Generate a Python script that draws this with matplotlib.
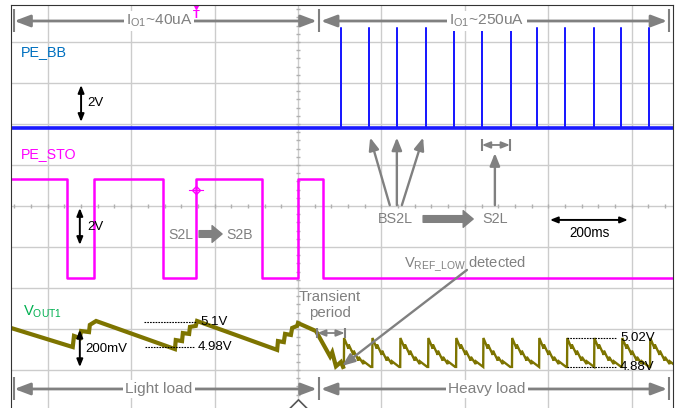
import matplotlib
matplotlib.use("Agg")
import matplotlib.pyplot as plt
import numpy as np

FONT, K = 'Liberation Sans', 1.06
plt.rcParams['font.family'] = FONT
plt.rcParams['mathtext.fontset'] = 'custom'
plt.rcParams['mathtext.rm'] = FONT

# time axis in ms, 200 ms/div, trigger at 0
# PE_BB (2V/div): spike times
bb_spike_t = [102, 170, 238, 306, 374, 442, 510, 573, 641, 709, 775, 842]
bb_spike_v = 4.9
bb_offset = 1.9          # div

# PE_STO (2V/div): edge times and levels
sto_edge_t = [-554, -489, -324, -245, -86, 0, 60]
sto_high = 4.8
sto_offset = -1.75       # div

# VOUT1 (200mV/div)
vout_light_t = [-688, -540, -537, -523, -520, -501, -499, -484,
                -295, -293, -278, -276, -261, -259, -245, -242,
                -50, -48, -34, -31, -17, -14, -2, 0,
                43, 77, 82, 91, 103, 108]
vout_light_v = [5.071, 4.978, 5.032, 5.022, 5.056, 5.051, 5.086, 5.105,
                4.968, 5.012, 5.007, 5.046, 5.042, 5.076, 5.081, 5.105,
                4.964, 5.007, 5.002, 5.042, 5.037, 5.071, 5.081, 5.095,
                5.056, 4.932, 4.952, 4.884, 4.905, 4.881]
heavy_jump_t = [110, 178, 245, 312, 379, 444, 513, 578, 645, 710, 777, 844]
cycle_dt = [0, 0.5, 11, 11.5, 23, 23.5, 35, 35.5, 47, 47.5, 64.7]
cycle_v = [4.881, 5.022, 4.970, 4.990, 4.940, 4.960, 4.912, 4.930, 4.895, 4.908, 4.881]
vout_ref = 5.1
vout_ref_div = -2.83

GRAY = '#808080'
BLUE = '#1a1aff'
MAG = '#ff00ff'
OLIVE = '#7d7400'


def vout_div(v):
    return vout_ref_div + (np.asarray(v) - vout_ref) / 0.2


fig = plt.figure(figsize=(6.78, 4.08), dpi=100)
ax = fig.add_axes([11 / 678, 0, 662 / 678, 403 / 408])
ax.set_xlim(-688, 899)
ax.set_ylim(-4.927, 4.902)
ax.set_xticks(np.arange(-600, 900, 200))
ax.set_yticks(np.arange(-4, 5, 1))
ax.tick_params(length=0, labelbottom=False, labelleft=False)
ax.grid(True, color='#cccccc', lw=1)
for s in ['left', 'top', 'right']:
    ax.spines[s].set_color('#333333')
ax.spines['bottom'].set_visible(False)

# centre graticule minor ticks
ax.plot(np.arange(-680, 900, 40), np.zeros(40), ls='', marker='|', ms=3.5, color='#b0b0b0')
ax.plot(np.zeros(49), np.arange(-4.8, 5, 0.2), ls='', marker='_', ms=3.5, color='#b0b0b0')

# PE_BB trace
bb_t = [-688]
bb_v = [0]
for t in bb_spike_t:
    bb_t += [t, t, t]
    bb_v += [0, bb_spike_v, 0]
bb_t.append(899)
bb_v.append(0)
ax.plot(bb_t, np.array(bb_v) / 2 + bb_offset, color=BLUE, lw=1.1)
ax.plot([-688, 899], [bb_offset, bb_offset], color=BLUE, lw=2.6)

# PE_STO trace
sto_t = [-688]
sto_v = [sto_high]
level = sto_high
for t in sto_edge_t:
    sto_t += [t, t]
    sto_v += [level, sto_high - level]
    level = sto_high - level
sto_t.append(899)
sto_v.append(level)
ax.plot(sto_t, np.array(sto_v) / 2 + sto_offset, color=MAG, lw=1.8)

# VOUT1 trace
ax.plot(vout_light_t, vout_div(vout_light_v), color=OLIVE, lw=3, solid_joinstyle='miter')
vt = [vout_light_t[-1]]
vv = [vout_light_v[-1]]
for t0 in heavy_jump_t:
    vt += [t0 + d for d in cycle_dt]
    vv += cycle_v
ax.plot(vt, vout_div(vv), color=OLIVE, lw=1.7, solid_joinstyle='miter')

# channel labels
ax.text(-664, 3.756, 'PE_BB', color='#0070c0', fontsize=9.8 * K, va='center')
ax.text(-664, 1.268, 'PE_STO', color=MAG, fontsize=9.6 * K, va='center')
ax.text(-660, -2.585, r'V$_{\mathregular{OUT1}}$', color='#00b050', fontsize=10 * K, va='center')

# scale arrows
sc = dict(arrowstyle='<|-|>,head_length=0.45,head_width=0.18', color='black', lw=1.4,
          shrinkA=0, shrinkB=0, mutation_scale=10)
ax.annotate('', xy=(-520, 2.95), xytext=(-520, 2.05), arrowprops=sc)
ax.text(-504, 2.51, '2V', fontsize=9 * K, va='center')
ax.annotate('', xy=(-523, -0.05), xytext=(-523, -0.95), arrowprops=sc)
ax.text(-504, -0.51, '2V', fontsize=9 * K, va='center')
ax.annotate('', xy=(-523, -3.02), xytext=(-523, -3.93), arrowprops=sc)
ax.text(-511, -3.49, '200mV', fontsize=9 * K, va='center')
ax.annotate('', xy=(604, -0.34), xytext=(791, -0.34), arrowprops=sc)
ax.text(700, -0.66, '200ms', fontsize=9.2 * K, ha='center', va='center')

# load / current span arrows
span = dict(arrowstyle='<|-|>,head_length=0.95,head_width=0.36', color=GRAY, lw=2,
            shrinkA=0, shrinkB=0, mutation_scale=10)
wbox = dict(facecolor='white', edgecolor='none', pad=1.5)
for y, lab1, lab2 in [(4.512, r'I$_{\mathregular{O1}}$~40uA', r'I$_{\mathregular{O1}}$~250uA'),
                      (-4.463, 'Light load', 'Heavy load')]:
    ax.annotate('', xy=(45, y), xytext=(-680, y), arrowprops=span)
    ax.annotate('', xy=(885, y), xytext=(55, y), arrowprops=span)
    ax.vlines([-681, 50.4, 889.7], y - 0.28, y + 0.3, color=GRAY, lw=1.5)
    ax.text(-333, y, lab1, color=GRAY, fontsize=10.5 * K, ha='center', va='center', bbox=wbox)
    ax.text(453, y, lab2, color=GRAY, fontsize=10.5 * K, ha='center', va='center', bbox=wbox)

# state annotations
thin = dict(arrowstyle='-|>,head_length=0.75,head_width=0.3', color=GRAY, lw=1.7,
            shrinkA=0, shrinkB=0, mutation_scale=10)
thick = dict(arrowstyle='simple,head_length=0.6,head_width=1.0,tail_width=0.4',
             color=GRAY, shrinkA=0, shrinkB=0, mutation_scale=12)
ax.text(-281, -0.707, 'S2L', color=GRAY, fontsize=9.5 * K, ha='center', va='center')
ax.annotate('', xy=(-182, -0.683), xytext=(-237, -0.683), arrowprops=thick)
ax.text(-139, -0.707, 'S2B', color=GRAY, fontsize=9.5 * K, ha='center', va='center')

ax.text(234, -0.317, 'BS2L', color=GRAY, fontsize=9.8 * K, ha='center', va='center')
for t0, t1 in [(220, 173), (237, 237), (249, 300)]:
    ax.annotate('', xy=(t1, 1.67), xytext=(t0, 0.02), arrowprops=thin)
ax.annotate('', xy=(420, -0.317), xytext=(300, -0.317), arrowprops=thick)
ax.text(472, -0.317, 'S2L', color=GRAY, fontsize=9.8 * K, ha='center', va='center')
ax.annotate('', xy=(472, 1.29), xytext=(472, 0.02), arrowprops=thin)
small = dict(arrowstyle='<|-|>,head_length=0.5,head_width=0.2', color=GRAY, lw=1.3,
             shrinkA=0, shrinkB=0, mutation_scale=10)
ax.annotate('', xy=(508, 1.488), xytext=(441, 1.488), arrowprops=small)
ax.vlines([441, 508], 1.34, 1.63, color=GRAY, lw=1.5)

ax.text(400, -1.415, r'V$_{\mathregular{REF\_LOW}}$ detected', color=GRAY, fontsize=10 * K,
        ha='center', va='center')
ax.annotate('', xy=(106, -3.9), xytext=(405, -1.56), arrowprops=thin)

ax.text(77, -2.415, 'Transient\nperiod', color=GRAY, fontsize=10.2 * K, ha='center',
        va='center', linespacing=1.1)
ax.annotate('', xy=(112, -3.098), xytext=(46, -3.098), arrowprops=small)
ax.vlines([46, 112], -3.22, -2.976, color=GRAY, lw=1.5)

# voltage level markers
ax.hlines(vout_div([5.1, 4.98]), [-369, -367], [-245, -249], color='black', lw=0.8, linestyles=(0, (1.5, 1)))
ax.text(-235, vout_div(5.1), '5.1V', fontsize=9 * K, va='center')
ax.text(-240, vout_div(4.98), '4.98V', fontsize=9 * K, va='center')
ax.hlines(vout_div([5.02, 4.88]), 645, 765, color='black', lw=0.8, linestyles=(0, (1.5, 1)))
ax.text(772, vout_div(5.02), '5.02V', fontsize=9 * K, va='center')
ax.text(772, vout_div(4.88), '4.88V', fontsize=9 * K, va='center')

# scope markers
ax.plot(-245, 4.87, marker='v', color=MAG, ms=5)
ax.text(-245, 4.66, 'T', color=MAG, fontsize=8, fontweight='bold', ha='center', va='center')
ax.plot(-245, 0.39, marker='D', mfc='none', mec=MAG, ms=4.5, mew=1)
ax.plot([-262, -228], [0.39, 0.39], color=MAG, lw=0.8)
ax.plot(0, -4.9, marker=[(-2, -1), (0, 1), (2, -1), (-2, -1)], ms=22, mfc='white',
        mec='#555555', mew=1.2, clip_on=False)

fig.savefig('out.png', dpi=100)
